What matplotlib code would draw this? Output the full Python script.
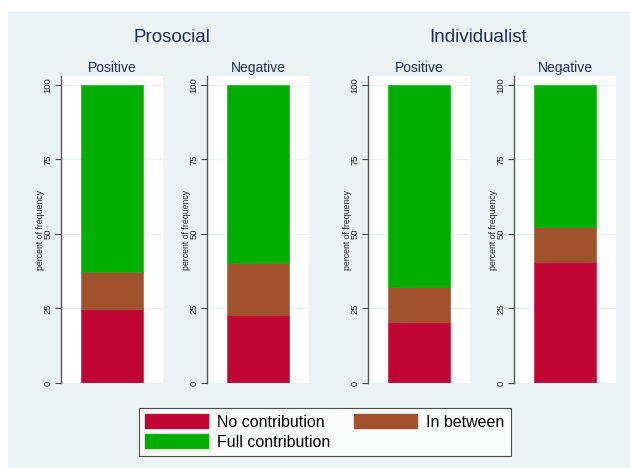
import matplotlib
matplotlib.use("Agg")
import matplotlib.pyplot as plt
from matplotlib.patches import Patch, Rectangle

plt.rcParams["font.family"] = ["Liberation Sans", "DejaVu Sans"]

# data (percent of frequency)
groups = ["Prosocial", "Individualist"]
conditions = ["Positive", "Negative"]
no_contribution = [24.8, 22.9, 20.6, 40.7]
in_between = [12.5, 17.4, 11.5, 11.6]
full_contribution = [62.7, 59.7, 67.9, 47.7]
series_labels = ["No contribution", "In between", "Full contribution"]
yticks = [0, 25, 50, 75, 100]

colors = ["#C10534", "#A0522D", "#00AE00"]
bg = "#EAF2F3"
title_col = "#1E2D5C"

W, H = 630, 468
fig = plt.figure(figsize=(W / 100, H / 100), dpi=100)
fig.patches.append(Rectangle((8 / W, 0), 1 - 8 / W, 1 - 12 / H,
                             transform=fig.transFigure, color=bg, zorder=-10))

lefts = [61, 207, 368, 514]
top, bottom = 76, 383

for i, left in enumerate(lefts):
    ax = fig.add_axes([left / W, 1 - bottom / H, 102 / W, (bottom - top) / H])
    ax.set_facecolor("white")
    vals = [no_contribution[i], in_between[i], full_contribution[i]]
    base = 0
    for v, c in zip(vals, colors):
        ax.bar(0.5, v, width=0.6, bottom=base, color=c, edgecolor=c,
               linewidth=0.4, zorder=3)
        base += v
    ax.set_xlim(0, 1)
    ax.set_ylim(0, 103)
    ax.set_xticks([])
    ax.set_yticks(yticks)
    ax.set_yticklabels([str(t) for t in yticks], rotation=90, va="center",
                       fontsize=6.8, color="#222222")
    ax.tick_params(axis="y", length=4, width=0.8, color="#444444", pad=2)
    for g in yticks[1:]:
        ax.axhline(g, color=bg, lw=0.9, zorder=1)
    for s in ["top", "right", "bottom"]:
        ax.spines[s].set_visible(False)
    ax.spines["left"].set_color("#555555")
    ax.spines["left"].set_linewidth(1.0)
    ax.set_ylabel("percent of frequency", fontsize=6.3, color="#222222")
    ax.yaxis.set_label_coords(-0.155, 0.5)
    ax.set_title(conditions[i % 2], fontsize=10, color=title_col, pad=3)

fig.text(172 / W, 1 - 38 / H, groups[0], ha="center", va="center",
         fontsize=13.5, color=title_col)
fig.text(478 / W, 1 - 38 / H, groups[1], ha="center", va="center",
         fontsize=13.5, color=title_col)

handles = [Patch(facecolor=colors[0], edgecolor=colors[0]),
           Patch(facecolor=colors[2], edgecolor=colors[2]),
           Patch(facecolor=colors[1], edgecolor=colors[1])]
labels = [series_labels[0], series_labels[2], series_labels[1]]
leg = fig.legend(handles, labels, ncol=2, loc="center",
                 bbox_to_anchor=(325 / W, 1 - 432 / H),
                 fontsize=11.5, handlelength=3.9, handleheight=0.9,
                 columnspacing=1.5, labelspacing=0.3, handletextpad=0.6,
                 borderpad=0.4, fancybox=False, frameon=True)
leg.get_frame().set_edgecolor("#222222")
leg.get_frame().set_linewidth(0.8)

fig.savefig("out.png", dpi=100)
